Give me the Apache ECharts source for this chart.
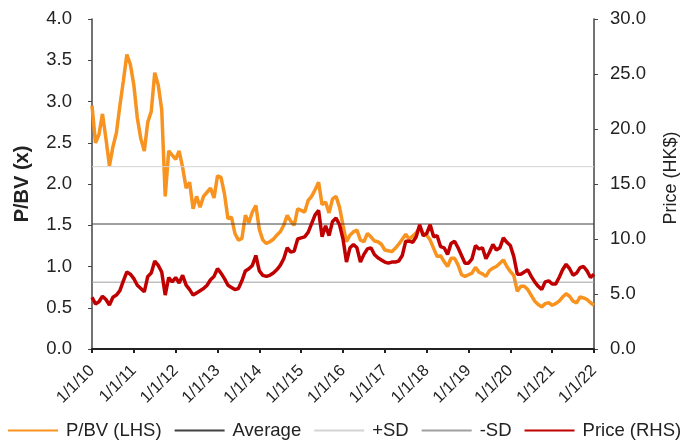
<!DOCTYPE html>
<html>
<head>
<meta charset="utf-8">
<script src="https://cdn.jsdelivr.net/npm/echarts@6/dist/echarts.min.js"></script>
<style>html,body{margin:0;padding:0;background:#fff;overflow:hidden}#c{width:680px;height:443px}</style>
</head>
<body>
<div id="c"></div>
<script>
// x ticks (one per year, month index 0..144)
var yearLabels = ['1/1/10','1/1/11','1/1/12','1/1/13','1/1/14','1/1/15','1/1/16','1/1/17','1/1/18','1/1/19','1/1/20','1/1/21','1/1/22'];
// monthly observations Jan-2010 .. Jan-2022
var pbv = [
2.95,2.5,2.6,2.85,2.55,2.22,2.45,2.62,2.95,3.25,3.57,3.45,
3.2,2.8,2.55,2.4,2.75,2.88,3.35,3.2,2.9,1.85,2.4,2.35,
2.3,2.4,2.2,1.95,2.02,1.7,1.85,1.72,1.85,1.9,1.95,1.83,
2.1,2.08,1.88,1.58,1.6,1.4,1.32,1.34,1.62,1.53,1.66,1.74,
1.45,1.32,1.28,1.3,1.33,1.38,1.42,1.5,1.62,1.55,1.5,1.7,
1.68,1.66,1.8,1.85,1.93,2.02,1.75,1.78,1.65,1.82,1.85,1.72,
1.5,1.3,1.38,1.42,1.44,1.32,1.3,1.4,1.36,1.31,1.3,1.27,
1.2,1.19,1.18,1.22,1.27,1.33,1.39,1.33,1.37,1.41,1.47,1.4,
1.38,1.32,1.22,1.12,1.13,1.06,1.0,1.1,1.1,1.02,0.9,0.88,
0.9,0.92,0.99,0.93,0.91,0.88,0.95,0.98,1.0,1.04,1.08,1.0,
0.94,0.89,0.7,0.76,0.76,0.72,0.65,0.58,0.54,0.51,0.55,0.56,
0.53,0.55,0.58,0.63,0.67,0.64,0.58,0.56,0.63,0.62,0.6,0.56,
0.53];
var price = [
4.7,4.1,4.3,4.8,4.5,4.0,4.7,4.9,5.3,6.2,7.0,6.8,
6.4,5.8,5.5,5.2,6.6,6.9,8.0,7.6,7.0,4.9,6.5,6.1,
6.5,6.0,6.7,5.8,5.4,4.9,5.1,5.3,5.5,5.8,6.3,6.6,
7.3,6.9,6.4,5.8,5.6,5.4,5.5,6.2,7.1,7.3,7.6,8.5,
7.1,6.7,6.6,6.7,6.9,7.2,7.6,8.2,9.2,8.8,8.9,10.0,
10.1,10.2,10.6,11.4,12.2,12.6,10.2,11.2,10.3,11.6,11.9,11.3,
10.0,7.9,9.2,9.5,9.2,7.9,8.6,9.1,9.2,8.6,8.3,8.1,
7.9,7.8,7.9,7.9,8.0,8.5,9.8,9.8,9.7,10.2,11.3,10.3,
10.5,11.3,10.2,10.3,9.3,9.2,8.6,9.6,9.8,9.2,8.5,7.8,
7.8,8.2,9.4,9.1,9.2,8.2,8.8,9.5,9.0,9.2,10.1,9.7,
9.4,8.4,6.8,6.8,7.0,7.2,6.6,6.1,5.7,5.4,6.1,6.2,
5.9,5.9,6.5,7.2,7.7,7.3,6.7,6.9,7.4,7.5,7.1,6.5,
6.8];
var averagePBV = 1.515;
var plusSD = 2.21;
var minusSD = 0.81;

var lastIdx = pbv.length - 1;
function pairs(arr){ return arr.map(function(v,i){ return [i, v]; }); }
function flat(v){ return [[0, v], [lastIdx, v]]; }

var FONT = 'Liberation Sans, Arial, sans-serif';
var chart = echarts.init(document.getElementById('c'), null, {renderer:'canvas', width: 680, height: 443});
chart.setOption({
  animation: false,
  textStyle: {fontFamily: FONT},
  grid: {left: 92, right: 86, top: 19, bottom: 94, containLabel: false, outerBoundsMode: 'none'},
  legend: {
    left: 7, top: 421, width: 720, padding: 0, itemWidth: 50, itemHeight: 14, itemGap: 12,
    itemStyle: {opacity: 0},
    textStyle: {fontSize: 18.5, color: '#222', fontFamily: FONT, padding: [0,0,0,3]},
    data: ['P/BV (LHS)','Average','+SD','-SD','Price (RHS)']
  },
  xAxis: {
    type: 'value', min: 0, max: lastIdx, interval: 12,
    splitLine: {show: false},
    axisLine: {lineStyle: {color: '#222', width: 2}},
    axisTick: {show: true, length: 4, lineStyle: {color: '#222', width: 2}},
    axisLabel: {rotate: 45, fontSize: 16.5, color: '#222', margin: 19,
      formatter: function(v){ return yearLabels[Math.round(v/12)] || ''; }}
  },
  yAxis: [{
    type: 'value', min: 0, max: 4, interval: 0.5,
    name: 'P/BV (x)', nameLocation: 'middle', nameGap: 60,
    nameTextStyle: {fontSize: 20, fontWeight: 'bold', color: '#222'},
    splitLine: {show: false},
    axisLine: {show: true, lineStyle: {color: '#444', width: 1.5}},
    axisTick: {show: true, length: 4, lineStyle: {color: '#444'}},
    axisLabel: {fontSize: 18.5, color: '#222', margin: 20, formatter: function(v){ return v.toFixed(1); }}
  },{
    type: 'value', min: 0, max: 30, interval: 5, position: 'right',
    name: 'Price (HK$)', nameLocation: 'middle', nameGap: 68,
    nameTextStyle: {fontSize: 18, color: '#222', padding: [0,0,0,12]},
    splitLine: {show: false},
    axisLine: {show: true, lineStyle: {color: '#444', width: 1.5}},
    axisTick: {show: true, length: 4, lineStyle: {color: '#444'}},
    axisLabel: {fontSize: 18.5, color: '#222', margin: 16, formatter: function(v){ return v.toFixed(1); }}
  }],
  series: [
    {name: 'P/BV (LHS)', type: 'line', yAxisIndex: 0, data: pairs(pbv), color: '#F7931E',
     showSymbol: false, symbol: 'none', lineStyle: {width: 3.5, color: '#F7931E'}},
    {name: 'Average', type: 'line', yAxisIndex: 0, data: flat(averagePBV), color: '#404040',
     showSymbol: false, symbol: 'none', lineStyle: {width: 1, color: '#404040'}},
    {name: '+SD', type: 'line', yAxisIndex: 0, data: flat(plusSD), color: '#D4D4D4',
     showSymbol: false, symbol: 'none', lineStyle: {width: 1, color: '#D4D4D4'}},
    {name: '-SD', type: 'line', yAxisIndex: 0, data: flat(minusSD), color: '#A0A0A0',
     showSymbol: false, symbol: 'none', lineStyle: {width: 1, color: '#A0A0A0'}},
    {name: 'Price (RHS)', type: 'line', yAxisIndex: 1, data: pairs(price), color: '#C00000',
     showSymbol: false, symbol: 'none', lineStyle: {width: 3.5, color: '#C00000'}}
  ]
});
</script>
</body>
</html>
